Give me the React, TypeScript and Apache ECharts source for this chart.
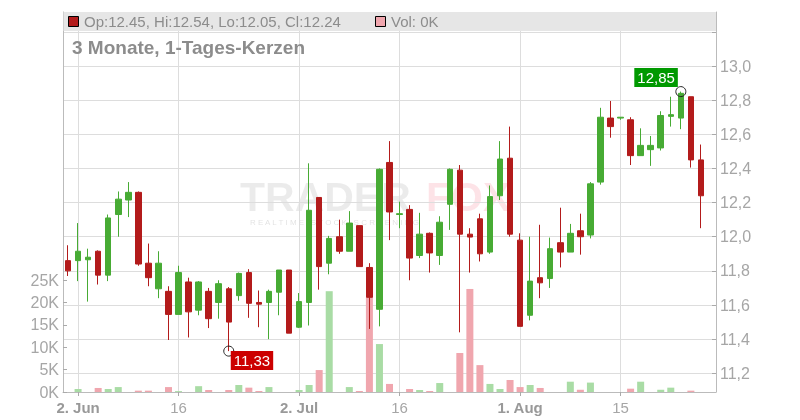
import React, { useEffect, useRef } from 'react';
import * as echarts from 'echarts';

const dates = [
  '2025-05-30',
  '2025-06-02', '2025-06-03', '2025-06-04', '2025-06-05', '2025-06-06',
  '2025-06-09', '2025-06-10', '2025-06-11', '2025-06-12', '2025-06-13',
  '2025-06-16', '2025-06-17', '2025-06-18', '2025-06-19', '2025-06-20',
  '2025-06-23', '2025-06-24', '2025-06-25', '2025-06-26', '2025-06-27',
  '2025-06-30', '2025-07-01', '2025-07-02', '2025-07-03', '2025-07-04',
  '2025-07-07', '2025-07-08', '2025-07-09', '2025-07-10', '2025-07-11',
  '2025-07-14', '2025-07-15', '2025-07-16', '2025-07-17', '2025-07-18',
  '2025-07-21', '2025-07-22', '2025-07-23', '2025-07-24', '2025-07-25',
  '2025-07-28', '2025-07-29', '2025-07-30', '2025-07-31', '2025-08-01',
  '2025-08-04', '2025-08-05', '2025-08-06', '2025-08-07', '2025-08-08',
  '2025-08-11', '2025-08-12', '2025-08-13', '2025-08-14', '2025-08-15',
  '2025-08-18', '2025-08-19', '2025-08-20', '2025-08-21', '2025-08-22',
  '2025-08-25', '2025-08-26', '2025-08-27',
];

const opens = [
  11.86, 11.86, 11.865, 11.915, 11.775, 12.13, 12.215, 12.26, 11.845, 11.695,
  11.68, 11.545, 11.735, 11.57, 11.68, 11.615, 11.695, 11.655, 11.79, 11.615,
  11.615, 11.675, 11.805, 11.47, 11.615, 12.23, 11.845, 12.0, 11.915, 12.065,
  11.82, 11.575, 12.435, 12.13, 12.16, 11.89, 12.02, 11.89, 12.19, 12.39,
  12.015, 12.105, 11.91, 12.24, 12.46, 11.98, 11.54, 11.76, 11.755, 11.965,
  11.91, 12.035, 12.01, 12.32, 12.695, 12.695, 12.685, 12.475, 12.51, 12.52,
  12.705, 12.695, 12.82, 12.45,
];

const closes = [
  11.8, 11.915, 11.88, 11.775, 12.11, 12.22, 12.26, 11.84, 11.76, 11.845,
  11.545, 11.79, 11.56, 11.735, 11.52, 11.725, 11.5, 11.785, 11.61, 11.605,
  11.68, 11.805, 11.435, 11.62, 12.155, 11.825, 11.99, 11.915, 12.08, 11.825,
  11.645, 12.395, 12.145, 12.135, 11.875, 12.015, 11.905, 12.085, 12.395, 12.015,
  11.998, 11.9, 12.235, 12.455, 12.015, 11.475, 11.74, 11.73, 11.93, 11.91,
  12.02, 12.0, 12.31, 12.7, 12.645, 12.7, 12.475, 12.535, 12.535, 12.71,
  12.715, 12.84, 12.45, 12.24,
];

const lows = [
  11.77, 11.74, 11.62, 11.72, 11.74, 12.0, 12.115, 11.83, 11.71, 11.64,
  11.395, 11.545, 11.41, 11.54, 11.465, 11.52, 11.33, 11.625, 11.525, 11.47,
  11.4, 11.54, 11.435, 11.465, 11.48, 11.69, 11.78, 11.9, 11.915, 11.825,
  11.46, 11.475, 11.98, 12.05, 11.745, 11.875, 11.79, 11.835, 12.04, 11.44,
  11.79, 11.855, 11.9, 12.215, 12.0, 11.475, 11.51, 11.64, 11.7, 11.82,
  11.91, 11.895, 11.99, 12.305, 12.58, 12.685, 12.42, 12.475, 12.415, 12.505,
  12.645, 12.63, 12.405, 12.05,
];

const highs = [
  11.95, 12.08, 11.93, 11.92, 12.13, 12.265, 12.32, 12.265, 11.96, 11.915,
  11.71, 11.83, 11.76, 11.74, 11.7, 11.745, 11.705, 11.79, 11.81, 11.685,
  11.69, 11.805, 11.805, 11.67, 12.43, 12.23, 12.005, 12.1, 12.15, 12.065,
  11.845, 12.4, 12.56, 12.205, 12.185, 12.14, 12.025, 12.12, 12.4, 12.42,
  12.05, 12.135, 12.3, 12.56, 12.645, 12.02, 12.0, 12.07, 11.995, 12.17,
  12.075, 12.135, 12.32, 12.755, 12.795, 12.7, 12.7, 12.635, 12.59, 12.735,
  12.82, 12.85, 12.82, 12.54,
];

const volumes = [
  0, 670, 0, 900, 670, 1100, 0, 300, 300, 0,
  1100, 200, 0, 1300, 450, 0, 450, 1560, 970, 220,
  1100, 0, 0, 450, 1560, 4900, 22500, 0, 1100, 220,
  21100, 10700, 1800, 0, 670, 450, 220, 2000, 0, 8700,
  23000, 6000, 1800, 670, 2700, 1100, 1560, 900, 0, 0,
  2300, 500, 2100, 0, 0, 0, 740, 2300, 0, 500,
  970, 0, 300, 0,
];

const labelDates = ['2025-06-02', '2025-06-16', '2025-07-02', '2025-07-16', '2025-08-01', '2025-08-15'];
const labelTexts = ['2. Jun', '16', '2. Jul', '16', '1. Aug', '15'];
const labelBold = [true, false, true, false, true, false];

const UP = '#47ab34';
const DOWN = '#b31b1b';
const VOL_UP = '#a9dca5';
const VOL_DOWN = '#f0a6ae';
const FONT = '"Liberation Sans", Arial, sans-serif';

export default function App() {
  const ref = useRef<HTMLDivElement>(null);

  useEffect(() => {
    if (!ref.current) return;
    const chart = echarts.init(ref.current, null, { renderer: 'svg' });

    const categories = [...dates, ''];
    const candles = dates.map((_, i) => [opens[i], closes[i], lows[i], highs[i]]);
    const vols = volumes.map((v, i) => ({
      value: v,
      itemStyle: { color: closes[i] >= opens[i] ? VOL_UP : VOL_DOWN },
    }));

    let lowIdx = 0;
    let highIdx = 0;
    lows.forEach((v, i) => { if (v < lows[lowIdx]) lowIdx = i; });
    highs.forEach((v, i) => { if (v > highs[highIdx]) highIdx = i; });
    const fmt2 = (v: number) => v.toFixed(2).replace('.', ',');

    const last = dates.length - 1;
    const headerText = `Op:${opens[last].toFixed(2)}, Hi:${highs[last].toFixed(2)}, Lo:${lows[last].toFixed(2)}, Cl:${closes[last].toFixed(2)}`;
    const volText = `Vol: ${Math.round(volumes[last] / 1000)}K`;

    const isLabel = (_idx: number, val: string) => labelDates.indexOf(val) >= 0;

    const option: any = {
      animation: false,
      textStyle: { fontFamily: FONT },
      grid: [
        { left: 63, right: 84, top: 12, bottom: 28 },
        { left: 63, right: 84, top: 280, bottom: 28 },
      ],
      xAxis: [
        {
          type: 'category', gridIndex: 0, data: categories, boundaryGap: true,
          axisLine: { show: false }, axisTick: { show: false }, axisLabel: { show: false },
          splitLine: { show: false },
        },
        {
          type: 'category', gridIndex: 1, data: categories, boundaryGap: true,
          axisLine: { show: true, lineStyle: { color: '#bbbbbb' } },
          axisTick: { show: true, alignWithLabel: true, interval: isLabel, length: 4, lineStyle: { color: '#aaaaaa' } },
          axisLabel: {
            interval: isLabel,
            margin: 8,
            formatter: (val: string) => {
              const k = labelDates.indexOf(val);
              if (k < 0) return '';
              return labelBold[k] ? `{b|${labelTexts[k]}}` : `{n|${labelTexts[k]}}`;
            },
            rich: {
              b: { fontSize: 15, fontWeight: 'bold', color: '#999999', fontFamily: FONT },
              n: { fontSize: 15, color: '#a6a6a6', fontFamily: FONT },
            },
          },
          splitLine: { show: false },
        },
      ],
      yAxis: [
        {
          type: 'value', gridIndex: 0, position: 'right',
          min: 11.0905, max: 13.3163, splitNumber: 11,
          axisLine: { show: true, lineStyle: { color: '#bbbbbb' } },
          axisTick: { show: true, inside: true, length: 4, lineStyle: { color: '#aaaaaa' } },
          axisLabel: {
            color: '#a6a6a6', fontSize: 16, margin: 4,
            showMinLabel: false, showMaxLabel: false,
            formatter: (v: number) => (v < 11.15 || v > 13.05 ? '' : v.toFixed(1).replace('.', ',')),
          },
          splitLine: { show: true, lineStyle: { color: '#dddddd', width: 1 } },
        },
        {
          type: 'value', gridIndex: 1, position: 'left',
          min: 0, max: 25000, interval: 5000,
          axisLine: { show: true, lineStyle: { color: '#bbbbbb' } },
          axisTick: { show: true, inside: true, length: 4, lineStyle: { color: '#aaaaaa' } },
          axisLabel: {
            color: '#a6a6a6', fontSize: 16, margin: 4,
            formatter: (v: number) => `${Math.round(v / 1000)}K`,
          },
          splitLine: { show: false },
        },
        {
          type: 'value', gridIndex: 0, position: 'left', min: 0, max: 1,
          axisLine: { show: true, lineStyle: { color: '#bbbbbb' } },
          axisTick: { show: false }, axisLabel: { show: false }, splitLine: { show: false },
        },
      ],
      series: [
        {
          type: 'line', xAxisIndex: 0, yAxisIndex: 0, data: [], silent: true, z: 1,
          markLine: {
            silent: true, z: 1, animation: false,
            symbol: ['none', 'none'],
            label: { show: false },
            lineStyle: { color: '#dddddd', type: 'solid', width: 1 },
            emphasis: { disabled: true },
            data: labelDates.map((d) => ({ xAxis: d })),
          },
        },
        {
          type: 'bar', xAxisIndex: 1, yAxisIndex: 1, data: vols, barWidth: 7, z: 2, silent: true,
        },
        {
          type: 'candlestick', xAxisIndex: 0, yAxisIndex: 0, data: candles, barWidth: 6, z: 3,
          silent: true,
          itemStyle: { color: UP, color0: DOWN, borderColor: UP, borderColor0: DOWN, borderWidth: 1 },
          markPoint: {
            silent: true, animation: false,
            symbol: 'circle', symbolSize: 10,
            itemStyle: { color: 'rgba(0,0,0,0)', borderColor: '#222222', borderWidth: 1 },
            data: [
              {
                coord: [dates[lowIdx], lows[lowIdx]],
                label: {
                  show: true, formatter: fmt2(lows[lowIdx]), position: [7.5, 5.5],
                  align: 'left', verticalAlign: 'top',
                  color: '#ffffff', fontSize: 15, fontFamily: FONT,
                  backgroundColor: '#cc0000', padding: [2, 3, 2, 3],
                },
              },
              {
                coord: [dates[highIdx], highs[highIdx]],
                label: {
                  show: true, formatter: fmt2(highs[highIdx]), position: [2.5, 1],
                  align: 'right', verticalAlign: 'bottom',
                  color: '#ffffff', fontSize: 15, fontFamily: FONT,
                  backgroundColor: '#009900', padding: [2, 3, 2, 3],
                },
              },
            ],
          },
        },
      ],
      graphic: [
        {
          type: 'text', left: 240, top: 176, z: 0, silent: true,
          style: { text: 'TRADER', fontSize: 41, lineHeight: 32, fontWeight: 'bold', fontFamily: FONT, fill: 'rgba(0,0,0,0.08)' },
        },
        {
          type: 'text', left: 426, top: 176, z: 0, silent: true,
          style: { text: 'FOX', fontSize: 41, lineHeight: 32, fontWeight: 'bold', fontFamily: FONT, fill: 'rgba(240,40,70,0.13)' },
        },
        {
          type: 'text', left: 250, top: 218, z: 0, silent: true,
          style: { text: 'R E A L T I M E   S T O C K   S C R E E N I N G', fontSize: 8, lineHeight: 9, fontFamily: FONT, fill: 'rgba(0,0,0,0.12)' },
        },
        {
          type: 'rect', z: 10, silent: true,
          shape: { x: 63.5, y: 12, width: 652.5, height: 19 },
          style: { fill: '#e6e6e6' },
        },
        {
          type: 'rect', z: 11, silent: true,
          shape: { x: 68.5, y: 16.5, width: 10, height: 10 },
          style: { fill: DOWN, stroke: '#000000', lineWidth: 1 },
        },
        {
          type: 'text', z: 11, silent: true, x: 84, y: 21.5,
          style: { text: headerText, fontSize: 15, fontFamily: FONT, fill: '#8c8c8c', verticalAlign: 'middle' },
        },
        {
          type: 'rect', z: 11, silent: true,
          shape: { x: 375.5, y: 16.5, width: 10, height: 10 },
          style: { fill: VOL_DOWN, stroke: '#000000', lineWidth: 1 },
        },
        {
          type: 'text', z: 11, silent: true, x: 391, y: 21.5,
          style: { text: volText, fontSize: 15, fontFamily: FONT, fill: '#8c8c8c', verticalAlign: 'middle' },
        },
        {
          type: 'text', z: 11, silent: true, x: 72, y: 47.5,
          style: { text: '3 Monate, 1-Tages-Kerzen', fontSize: 19, fontWeight: 'bold', fontFamily: FONT, fill: '#8c8c8c', verticalAlign: 'middle' },
        },
      ],
    };

    chart.setOption(option);
    return () => chart.dispose();
  }, []);

  return <div ref={ref} style={{ position: 'fixed', left: 0, top: 0, width: 800, height: 420 }} />;
}
